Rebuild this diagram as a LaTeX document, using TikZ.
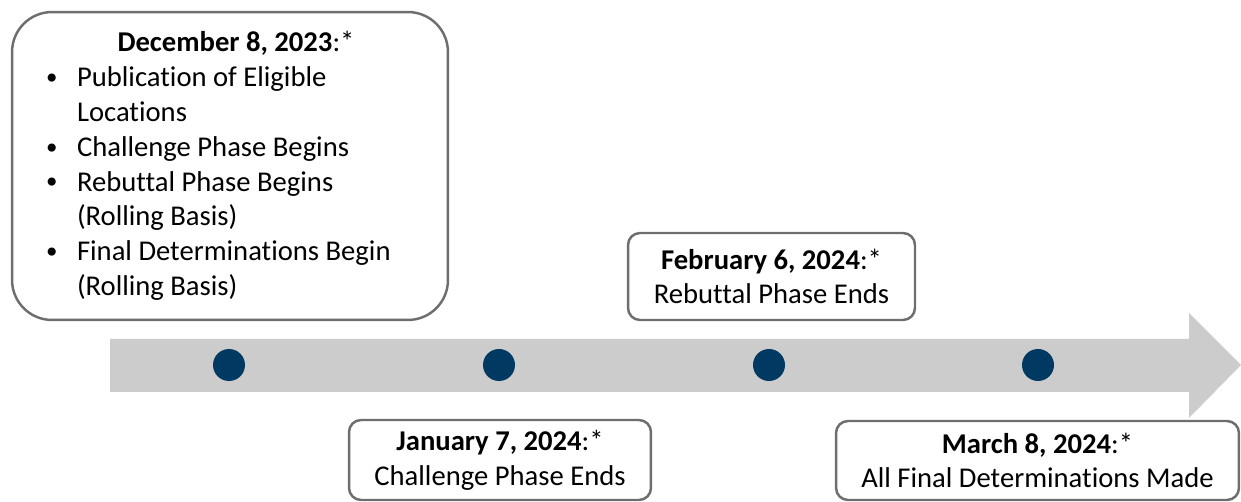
\documentclass[tikz,border=0pt]{standalone}
\usepackage{graphicx}
\usepackage{fontspec}
\setmainfont[Ligatures=NoCommon]{Carlito}
\definecolor{shaftgray}{HTML}{CCCCCC}
\definecolor{dotblue}{HTML}{003A63}
\definecolor{boxline}{HTML}{6E6E6E}
\newcommand{\bull}{\noindent\llap{\makebox[0.66cm][l]{\hspace{0.04cm}\raisebox{0.08em}{\scalebox{0.8}{\textbullet}}}}}

\begin{document}
\begin{tikzpicture}[x=0.02cm,y=-0.02cm]
      \tikzstyle{datebox}=[draw=boxline,line width=1.4pt,fill=white,rounded corners=0.24cm,align=center,inner sep=0pt,font=\fontsize{16.3}{19.8}\selectfont];
      \tikzstyle{dot}=[circle,fill=dotblue,minimum size=0.64cm,inner sep=0pt];

      \useasboundingbox (0,0) rectangle (1241,502);

      \fill[shaftgray] (110,339) -- (1189,339) -- (1189,313) -- (1241,365) -- (1189,418) -- (1189,392) -- (110,392) -- cycle;

      \node[dot](d1) at (229,365) {};
      \node[dot](d2) at (499,365) {};
      \node[dot](d3) at (769,365) {};
      \node[dot](d4) at (1038,365) {};

      \node[datebox,rounded corners=0.8cm,minimum width=8.72cm,minimum height=6.16cm](dec) at (230,166) {%
        \begin{minipage}{7.44cm}\raggedright
        {\centering\hspace*{0.24cm}\textbf{December 8, 2023}:*\par}
        \leftskip=0.66cm
        \bull Publication of Eligible\\Locations\par
        \bull Challenge Phase Begins\par
        \bull Rebuttal Phase Begins\\(Rolling Basis)\par
        \bull Final Determinations Begin\\(Rolling Basis)\par
        \end{minipage}};
      \node[datebox,minimum width=5.74cm,minimum height=1.74cm](feb) at (771.5,276.5) {\textbf{February 6, 2024}:*\\Rebuttal Phase Ends};
      \node[datebox,minimum width=6.04cm,minimum height=1.6cm](jan) at (500,460) {\textbf{January 7, 2024}:*\\Challenge Phase Ends};
      \node[datebox,minimum width=8.06cm,minimum height=1.58cm](mar) at (1037.5,460.5) {\textbf{March 8, 2024}:*\\All Final Determinations Made};

    \end{tikzpicture}
\end{document}
